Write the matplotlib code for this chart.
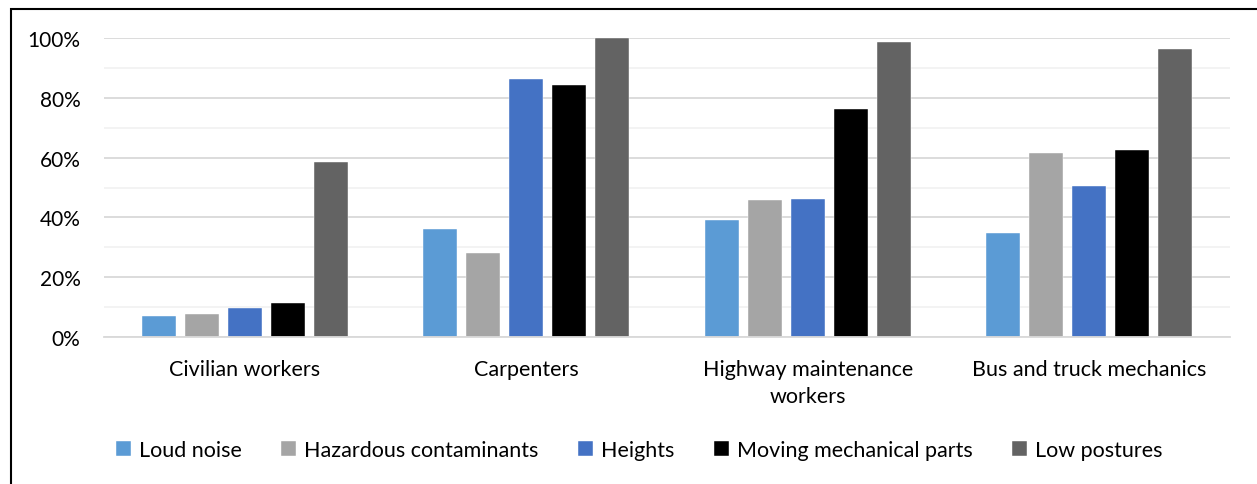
import matplotlib
matplotlib.use("Agg")
import matplotlib.pyplot as plt
import numpy as np
from matplotlib.patches import Rectangle
from matplotlib.ticker import MultipleLocator, PercentFormatter

categories = ["Civilian workers", "Carpenters", "Highway maintenance\nworkers", "Bus and truck mechanics"]
series_names = ["Loud noise", "Hazardous contaminants", "Heights", "Moving mechanical parts", "Low postures"]
loud_noise = [7.0, 36.0, 39.1, 34.8]
hazardous = [7.6, 28.1, 45.8, 61.4]
heights = [9.6, 86.4, 46.2, 50.5]
moving_parts = [11.4, 84.3, 76.3, 62.4]
low_postures = [58.6, 100.0, 98.6, 96.3]
colors = ["#5B9BD5", "#A5A5A5", "#4472C4", "#000000", "#636363"]

plt.rcParams['font.family'] = ['Lato', 'DejaVu Sans']

fig = plt.figure(figsize=(12.57, 4.85), dpi=100)
ax = fig.add_axes([104/1257, 1-338/485, (1230-104)/1257, (338-39)/485])

data = [loud_noise, hazardous, heights, moving_parts, low_postures]
x = np.arange(len(categories))
step = 0.1527
width = 0.1208
for i, (vals, name, c) in enumerate(zip(data, series_names, colors)):
    ax.bar(x + (i - 2) * step, vals, width=width, color=c, label=name, zorder=3,
           edgecolor="#ffffff", linewidth=0.3)

ax.set_xlim(-0.5, len(categories) - 0.5)
ax.set_ylim(0, 100)
ax.yaxis.set_major_locator(MultipleLocator(20))
ax.yaxis.set_minor_locator(MultipleLocator(10))
ax.yaxis.set_major_formatter(PercentFormatter(decimals=0))
ax.grid(axis='y', which='major', color='#d9d9d9', linewidth=1.3, zorder=0)
ax.grid(axis='y', which='minor', color='#f2f2f2', linewidth=1.3, zorder=0)
for s in ['top', 'right', 'left']:
    ax.spines[s].set_visible(False)
ax.spines['bottom'].set_color('#d9d9d9')
ax.spines['bottom'].set_linewidth(1.3)
ax.spines['bottom'].set_zorder(4)
ax.tick_params(axis='both', which='both', length=0, colors='#000000')
ax.tick_params(axis='y', pad=17, labelsize=15)
ax.tick_params(axis='x', pad=16, labelsize=15.5)
ax.set_xticks(x)
ax.set_xticklabels(categories, linespacing=1.4)

handles, labels = ax.get_legend_handles_labels()
fig.legend(handles, labels, loc='center', bbox_to_anchor=(0.5085, 1-451/485), ncol=5,
           frameon=False, fontsize=15.5, handlelength=0.7, handleheight=0.7,
           handletextpad=0.35, columnspacing=1.85)

fig.patches.append(Rectangle((11/1257, -0.2), 1.2, 1.2 - 10/485 + 0.0, transform=fig.transFigure,
                             fill=False, edgecolor='black', linewidth=1.5))

fig.savefig("out.png", dpi=100)
